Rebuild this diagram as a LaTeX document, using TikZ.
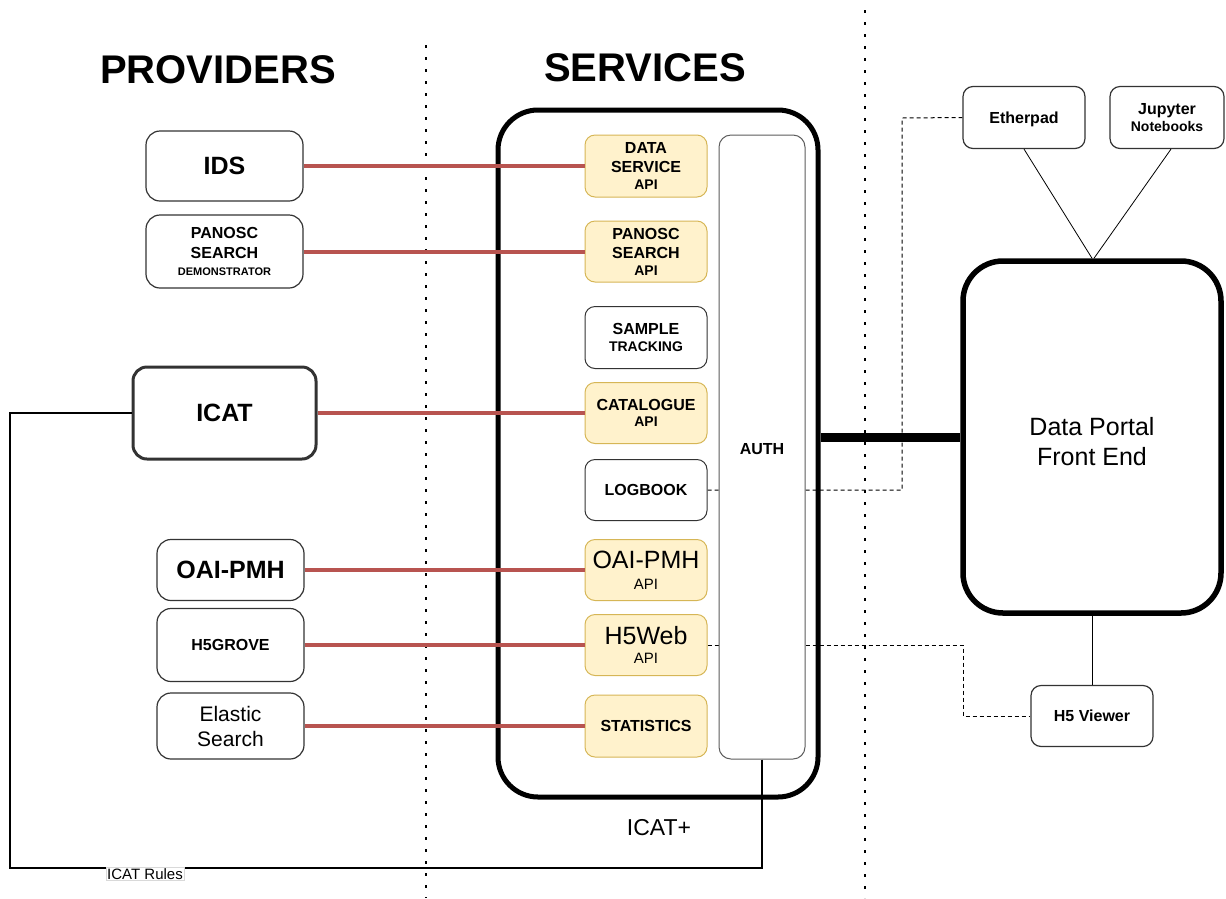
\documentclass[tikz,border=0pt]{standalone}
\usepackage{fontspec}
\setmainfont{Liberation Sans}
\usetikzlibrary{backgrounds}
\newcommand\fs[2]{\fontsize{#1}{#2}\selectfont}
\definecolor{linkred}{HTML}{B85450}
\definecolor{apifill}{HTML}{FFF2CC}
\definecolor{apidraw}{HTML}{D6B656}
\definecolor{boxgrey}{HTML}{333333}
\tikzset{
  pbox/.style={draw=boxgrey, line width=1.2pt, rounded corners=14pt, fill=white, align=center, inner sep=0pt, text depth=0pt},
  apibox/.style={draw=apidraw, line width=1pt, rounded corners=10pt, fill=apifill, align=center, inner sep=0pt, minimum width=122pt, text depth=0pt},
  wbox/.style={draw=boxgrey, line width=1pt, rounded corners=10pt, fill=white, align=center, inner sep=0pt, minimum width=122pt, text depth=0pt},
  rbox/.style={draw=boxgrey, line width=1.2pt, rounded corners=10pt, fill=white, align=center, inner sep=0pt, text depth=0pt},
  redlink/.style={draw=linkred, line width=4pt},
  dashlink/.style={draw=black, line width=1pt, dash pattern=on 4pt off 3pt},
  dotline/.style={draw=black, line width=2.5pt, dash pattern=on 2.5pt off 9.5pt},
  title/.style={font=\fs{40}{46}\bfseries, inner sep=0pt},
}
\begin{document}
\begin{tikzpicture}[x=1pt,y=-1pt]
\useasboundingbox (0,0) rectangle (1226,898);
% dotted separators
\coordinate (s1a) at (426,45); \coordinate (s1b) at (426,898);
\coordinate (s2a) at (865,10); \coordinate (s2b) at (865,898);
\draw[dotline] (s1a) -- (s1b);
\draw[dotline] (s2a) -- (s2b);
% titles
\node[title] (tprov) at (218,70) {PROVIDERS};
\node[title] (tserv) at (645,68) {SERVICES};
% providers
\node[pbox, minimum width=157pt, minimum height=70pt, font=\fs{25}{30}\bfseries] (ids) at (224.5,166) {IDS};
\node[pbox, minimum width=157pt, minimum height=73pt, font=\fs{16}{19.3}\bfseries] (panp) at (224.5,251.5) {PANOSC\\SEARCH\\[-2pt]{\fs{11}{13}DEMONSTRATOR}};
\node[pbox, line width=3pt, minimum width=183pt, minimum height=92pt, font=\fs{25}{30}\bfseries] (icat) at (224.5,413) {ICAT};
\node[pbox, minimum width=147pt, minimum height=61pt, font=\fs{25}{30}\bfseries] (oaip) at (230.5,570) {OAI-PMH};
\node[pbox, minimum width=147pt, minimum height=73pt, font=\fs{16}{19}\bfseries] (h5g) at (230.5,645) {H5GROVE};
\node[pbox, minimum width=147pt, minimum height=66pt, font=\fs{21}{25}] (elas) at (230.5,726) {Elastic\\Search};
% services container
\node[draw=black, line width=5pt, rounded corners=40pt, minimum width=320pt, minimum height=687pt, inner sep=0pt] (serv) at (658,453.5) {};
\node[font=\fs{23}{27}, inner sep=0pt] (icatplus) at (659,828) {ICAT+};
% services
\node[apibox, minimum height=62pt, font=\fs{16}{19}\bfseries] (dsa) at (646,166) {DATA\\SERVICE\\[-2pt]{\fs{14}{17}API}};
\node[apibox, minimum height=61pt, font=\fs{16}{19}\bfseries] (psa) at (646,251.5) {PANOSC\\SEARCH\\[-2pt]{\fs{14}{17}API}};
\node[wbox, minimum height=62pt, font=\fs{16}{17}\bfseries] (st) at (646,337.5) {SAMPLE\\{\fs{14}{17}TRACKING}};
\node[apibox, minimum height=61pt, font=\fs{16}{16.6}\bfseries] (cat) at (646,413) {CATALOGUE\\{\fs{14}{17}API}};
\node[wbox, minimum height=61pt, font=\fs{16}{19}\bfseries] (logb) at (646,490) {LOGBOOK};
\node[apibox, minimum height=61pt, font=\fs{25}{21.4}] (oaia) at (646,570) {OAI-PMH\\{\fs{15}{18}API}};
\node[apibox, minimum height=61pt, font=\fs{25}{19}] (h5w) at (646,645) {H5Web\\{\fs{15}{18}API}};
\node[apibox, minimum height=62pt, font=\fs{16}{19}\bfseries] (stat) at (646,726) {STATISTICS};
% right side
\node[rbox, minimum width=122pt, minimum height=62pt, font=\fs{16}{19}\bfseries] (eth) at (1024,117.5) {Etherpad};
\node[rbox, minimum width=114pt, minimum height=62pt, font=\fs{16}{17}\bfseries] (jup) at (1167,117.5) {Jupyter\\{\fs{14}{17}Notebooks}};
\node[draw=black, line width=5.5pt, rounded corners=40pt, minimum width=258pt, minimum height=352pt, inner sep=0pt] (dp) at (1092,437) {};
\node[align=center, font=\fs{25}{30}, inner sep=0pt, text depth=0pt] (dplbl) at (1092,441) {Data Portal\\Front End};
\node[rbox, minimum width=122pt, minimum height=61pt, font=\fs{16}{19}\bfseries] (h5v) at (1092,716) {H5 Viewer};
% links behind
\coordinate (ethcorner) at (902,118);
\coordinate (h5corner) at (963,680);
\coordinate (rulescorner) at (10,868);
\begin{scope}[on background layer]
\draw[dashlink] (logb.east) -| (ethcorner) -- (eth.west);
\draw[dashlink] (h5w.east) -| (h5corner) |- (h5v.west);
\end{scope}
% auth box on top of dashed links
\node[draw=boxgrey!80, line width=1pt, rounded corners=12pt, fill=white, minimum width=86pt, minimum height=624pt, inner sep=0pt] (auth) at (762,447) {};
\node[font=\fs{16}{19}\bfseries, inner sep=0pt] (authlbl) at (762,449) {AUTH};
% red provider links
\draw[redlink] (ids.east) -- (dsa.west);
\draw[redlink] (panp.east) -- (psa.west);
\draw[redlink] (icat.east) -- (cat.west);
\draw[redlink] (oaip.east) -- (oaia.west);
\draw[redlink] (h5g.east) -- (h5w.west);
\draw[redlink] (elas.east) -- (stat.west);
% thick link services -> portal
\draw[line width=9pt] (serv.east |- dp.west) -- (dp.west);
% portal links
\draw[line width=0.8pt] (eth.south) -- (dp.north);
\draw[line width=0.8pt] ([xshift=4pt]jup.south) -- ([xshift=2pt]dp.north);
\draw[line width=0.8pt] (dp.south) -- (h5v.north);
% ICAT rules loop
\draw[line width=1.5pt] (auth.south) |- (rulescorner) |- (icat.west);
\node[draw=black!15, line width=0.5pt, fill=white, inner sep=1pt, font=\fs{15}{18}] (rules) at (145,874) {ICAT Rules};
\end{tikzpicture}
\end{document}
